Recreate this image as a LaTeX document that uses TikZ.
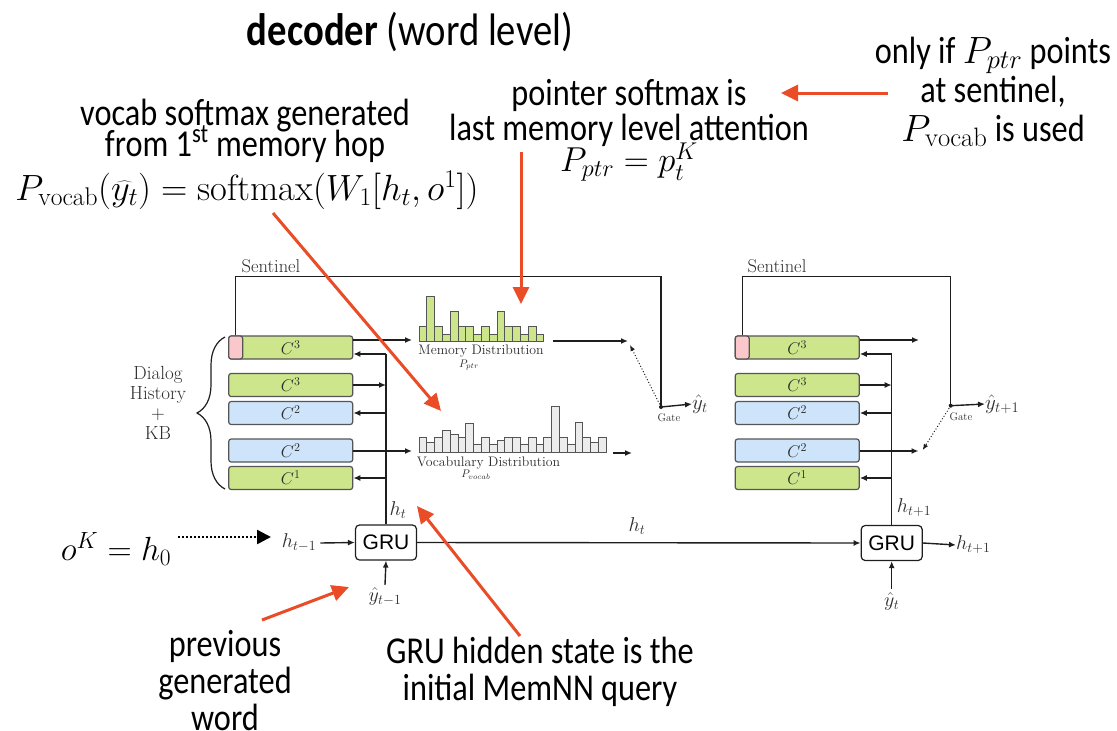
\RequirePackage{fix-cm}
\documentclass[tikz,border=0pt]{standalone}
\usepackage{fontspec}
\newfontfamily\annfont[FakeStretch=0.85]{Carlito}
\newfontfamily\grufont{Liberation Sans}
\usetikzlibrary{arrows.meta,decorations.pathreplacing,calc}
% let lines of a multi-line label sit closer than their glyph extents
\newcommand\tightls{\lineskiplimit=-60pt\relax}

\definecolor{grn}{RGB}{205,230,140}
\definecolor{blu}{RGB}{205,228,250}
\definecolor{pnk}{RGB}{250,200,202}
\definecolor{vgray}{RGB}{236,236,236}
\definecolor{bord}{RGB}{85,85,85}
\definecolor{wirec}{RGB}{30,30,30}
\definecolor{lab}{RGB}{45,45,45}
\definecolor{redc}{RGB}{233,76,38}

\begin{document}
\begin{tikzpicture}[x=1pt,y=-1pt,
  mem/.style={draw=bord, line width=1.2pt, rounded corners=2.5pt, minimum width=124pt,
    minimum height=23pt, inner sep=0pt, text=lab, font=\fontsize{17}{17}\selectfont},
  sentbox/.style={draw=bord, fill=pnk, line width=1.2pt, rounded corners=2.5pt,
    minimum width=14pt, minimum height=23pt, inner sep=0pt},
  gru/.style={draw=wirec, line width=1.2pt, rounded corners=4pt, minimum width=61pt,
    minimum height=35pt, inner sep=0pt, font=\grufont\fontsize{21}{21}\selectfont},
  wire/.style={line width=1.4pt, draw=wirec},
  arr/.style={wire, -{Latex[length=7pt,width=6pt]}},
  dotarr/.style={line width=1pt, draw=wirec, dotted, -{Latex[length=6pt,width=5pt]}},
  bigdot/.style={line width=2.5pt, draw=black, dash pattern=on 2pt off 2pt,
    -{Triangle[length=14pt,width=14pt]}},
  rarr/.style={line width=3pt, draw=redc, -{Triangle[length=17pt,width=16pt]}},
  lbl/.style={text=lab, inner sep=0pt, font=\fontsize{20}{20}\selectfont},
  small/.style={text=lab, inner sep=0pt, font=\fontsize{13.8}{13.8}\selectfont},
  tiny/.style={text=lab, inner sep=0pt, font=\fontsize{11}{11}\selectfont},
  ann/.style={inner sep=0pt, align=center, font={\annfont\fontsize{38}{33}\selectfont\tightls}},
  bar/.style={draw=bord, line width=1pt}]

\useasboundingbox (0,0) rectangle (1117,731);

% ---------- annotations ----------
\node[ann, font={\annfont\fontsize{45.5}{45.5}\selectfont}] (title) at (410,32) {\textbf{decoder} (word level)};
\node[ann, font={\annfont\fontsize{38}{39}\selectfont\tightls}] (onlyif) at (993,92)
  {only if $P_{ptr}$ points\\at sentinel,\\$P_{\mathrm{vocab}}$ is used};
\node[ann, font={\annfont\fontsize{38}{35}\selectfont\tightls}] (ptrnote) at (629,113)
  {pointer softmax is\\last memory level attention};
\node[ann, font={\annfont\fontsize{34.6}{34.6}\selectfont}] (ptreq) at (629,162) {$P_{ptr} = p_t^K$};
\node[ann, font={\annfont\fontsize{38}{31}\selectfont\tightls}] (vocnote) at (245,131)
  {vocab softmax generated\\from 1\textsuperscript{st} memory hop};
\node[ann, font={\annfont\fontsize{36.5}{36.5}\selectfont}] (voceq) at (247,190)
  {$P_{\mathrm{vocab}}(\widehat{y_t}) = \mathrm{softmax}(W_1[h_t,o^1])$};
\node[ann, font={\annfont\fontsize{33.5}{33.5}\selectfont}] (okh) at (116,549) {$o^K = h_0$};
\node[ann, font={\annfont\fontsize{38}{37}\selectfont\tightls}] (prevnote) at (225,681)
  {previous\\generated\\word};
\node[ann, font={\annfont\fontsize{38}{37}\selectfont\tightls}] (grunote) at (540,672)
  {GRU hidden state is the\\initial MemNN query};

% ---------- left memory stack ----------
\node[mem, fill=grn] (L1) at (290.7,347.5) {$C^3$};
\node[mem, fill=grn] (L2) at (290.7,385) {$C^3$};
\node[mem, fill=blu] (L3) at (290.7,413) {$C^2$};
\node[mem, fill=blu] (L4) at (290.7,450.5) {$C^2$};
\node[mem, fill=grn] (L5) at (290.7,478) {$C^1$};
\node[sentbox, anchor=west] (Ls) at (L1.west) {};

\node[text=lab, align=center, inner sep=0pt,
  font={\fontsize{19}{20}\selectfont\tightls}] (dh) at (158,403)
  {Dialog\\History\\+\\KB};
\draw[decorate, decoration={brace, amplitude=28pt, aspect=0.5}, line width=1.2pt, draw=wirec]
  (225,489) -- (225,337);

\node[text=lab, inner sep=0pt, font=\fontsize{18.5}{18.5}\selectfont] (sentL) at (271,266) {Sentinel};

% GRU at step t and the query bus
\node[gru] (G1) at (386,542.5) {GRU};
\coordinate (LbusTop) at (386,354);
\draw[wire] (G1.north) -- (LbusTop);
\draw[arr] (LbusTop) -- (LbusTop -| L1.east);
\draw[arr] (L2.east) -- (L2.east -| G1);
\draw[arr] (L3.east -| G1) -- (L3.east);
\draw[arr] (L5.east -| G1) -- (L5.east);

\coordinate (Min) at (412,340);
\draw[arr] (Min -| L1.east) -- (Min);
\coordinate (Vin) at (412,451);
\draw[arr] (Vin -| L4.east) -- (Vin);

% memory distribution
\foreach \h [count=\i from 0] in {15,45.7,15,7.3,30,15,15,7.3,15,7.3,30,15,15,7.3,15,7.3}
  \draw[bar, fill=grn] ({419+\i*7.8},341.7) rectangle ++(7.8,-\h);
\node[small] (mdl) at (481,351) {Memory Distribution};
\node[tiny] (mptr) at (469,365) {$P_{ptr}$};

% vocabulary distribution
\foreach \h [count=\i from 0] in {15.3,10.3,15.3,22,18.7,15.3,29.3,8,15.3,8,12.7,15.3,15.3,8,15.3,8,15.3,46,15.3,8,30.3,15.3,10.3,15.3}
  \draw[bar, fill=vgray] ({419+\i*7.8},452.7) rectangle ++(7.8,-\h);
\node[small] (vdl) at (488.5,463) {Vocabulary Distribution};
\node[tiny] (vptr) at (476,475) {$P_{vocab}$};

% gate at step t
\coordinate (Mout) at (553,341);
\coordinate (Mtip) at (628,341);
\draw[arr] (Mout) -- (Mtip);
\coordinate (Vout) at (613,453);
\coordinate (Vtip) at (632,453);
\draw[arr] (Vout) -- (Vtip);
\coordinate (gate1) at (661,407);
\coordinate (S1) at (661,276.7);
\draw[wire] (Ls.north) |- (S1) -- (gate1);
\draw[dotarr] (gate1) -- (630,345);
\fill[wirec] (gate1) circle (2pt);
\node[lbl, anchor=west, font=\fontsize{21}{21}\selectfont] (yt) at (692,404) {$\hat{y}_t$};
\draw[arr] (gate1) -- (yt.west);
\node[tiny] (gatel1) at (669,418) {Gate};

% ---------- right memory stack ----------
\node[mem, fill=grn] (R1) at (797.2,347.5) {$C^3$};
\node[mem, fill=grn] (R2) at (797.2,385) {$C^3$};
\node[mem, fill=blu] (R3) at (797.2,413) {$C^2$};
\node[mem, fill=blu] (R4) at (797.2,450.5) {$C^2$};
\node[mem, fill=grn] (R5) at (797.2,478) {$C^1$};
\node[sentbox, anchor=west] (Rs) at (R1.west) {};
\node[text=lab, inner sep=0pt, font=\fontsize{18.5}{18.5}\selectfont] (sentR) at (777,266) {Sentinel};

\node[gru] (G2) at (891.7,543) {GRU};
\coordinate (RbusTop) at (891.7,354);
\draw[wire] (G2.north) -- (RbusTop);
\draw[arr] (RbusTop) -- (RbusTop -| R1.east);
\draw[arr] (R2.east) -- (R2.east -| G2);
\draw[arr] (R3.east -| G2) -- (R3.east);
\draw[arr] (R5.east -| G2) -- (R5.east);
\coordinate (RMtip) at (919,340);
\draw[arr] (RMtip -| R1.east) -- (RMtip);
\coordinate (RVtip) at (918.5,451);
\draw[arr] (RVtip -| R4.east) -- (RVtip);

\coordinate (gate2) at (950.7,405.7);
\coordinate (S2) at (950.7,276.7);
\draw[wire] (Rs.north) |- (S2) -- (gate2);
\draw[dotarr] (gate2) -- (922.7,450);
\fill[wirec] (gate2) circle (2pt);
\node[lbl, anchor=west, font=\fontsize{21}{21}\selectfont] (yt1) at (985,404) {$\hat{y}_{t+1}$};
\draw[arr] (gate2) -- (yt1.west);
\node[tiny] (gatel2) at (961,417) {Gate};

% ---------- recurrent inputs / outputs ----------
\node[lbl] (hm1) at (299,543) {$h_{t-1}$};
\draw[arr] (hm1.east) ++(4,0) -- (G1.west);
\node[lbl] (ym1) at (385,597) {$\hat{y}_{t-1}$};
\draw[arr] (ym1.north) ++(0,-3) -- (G1.south);
\node[lbl] (htL) at (398,510) {$h_t$};
\draw[arr] (G1.east) -- (G2.west);
\node[lbl] (htM) at (637,526) {$h_t$};
\node[lbl] (hp1) at (914,508) {$h_{t+1}$};
\node[lbl, anchor=west] (hp1o) at (956,545) {$h_{t+1}$};
\draw[arr] (G2.east) -- (hp1o.west);
\node[lbl] (ytR) at (891.7,601) {$\hat{y}_t$};
\draw[arr] (ytR.north) ++(0,-3) -- (G2.south);

\coordinate (okS) at (178,537);
\coordinate (okE) at (271,537);
\draw[bigdot] (okS) -- (okE);

% ---------- red pointers ----------
\coordinate (r1s) at (888,93);   \coordinate (r1e) at (781,93);
\coordinate (r2s) at (521,152);  \coordinate (r2e) at (521,304);
\coordinate (r3s) at (273,213);  \coordinate (r3e) at (441,411);
\coordinate (r4s) at (262,620);  \coordinate (r4e) at (349,587);
\coordinate (r5s) at (520,636);  \coordinate (r5e) at (417,506);
\draw[rarr] (r1s) -- (r1e);
\draw[rarr] (r2s) -- (r2e);
\draw[rarr] (r3s) -- (r3e);
\draw[rarr] (r4s) -- (r4e);
\draw[rarr] (r5s) -- (r5e);
\end{tikzpicture}
\end{document}
